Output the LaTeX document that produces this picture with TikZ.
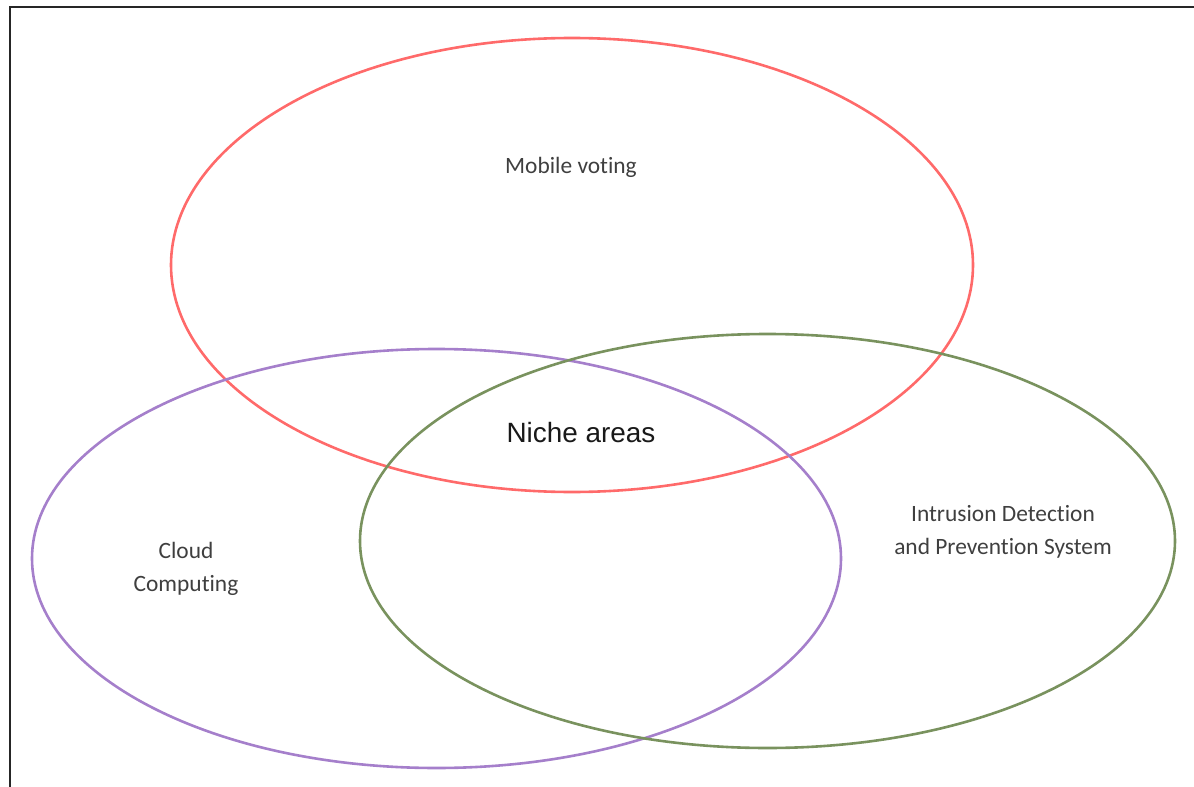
\documentclass[tikz,border=0pt]{standalone}
\usepackage{fontspec}
\setmainfont[Ligatures=CommonOff]{Carlito}
\newfontfamily\arialfont{Liberation Sans}
\definecolor{setred}{HTML}{FF6A6A}
\definecolor{setpurple}{HTML}{A57FCB}
\definecolor{setgreen}{HTML}{79925E}
\definecolor{labelgray}{HTML}{3F3F3F}
\tikzset{
  setline/.style={line width=2.6bp},
  label text/.style={text=labelgray, font=\fontsize{23.5}{32.5}\selectfont, align=center},
  frame/.style={line width=2.4bp, draw=black!85}
}
\begin{document}
\begin{tikzpicture}[x=1bp, y=-1bp]
  \useasboundingbox (0,0) rectangle (1194,787);
  % outer frame (runs off the right and bottom edges)
  \draw[frame] (10,790) -- (10,7) -- (1197,7);
  % the three sets
  \coordinate (mv) at (572,265);
  \coordinate (cc) at (436.5,558.5);
  \coordinate (ids) at (767.5,541);
  \draw[setline, draw=setred] (mv) ellipse [x radius=401, y radius=227];
  \draw[setline, draw=setpurple] (cc) ellipse [x radius=404.5, y radius=209.5];
  \draw[setline, draw=setgreen] (ids) ellipse [x radius=407.5, y radius=207];
  % labels
  \node[label text] (mvlabel) at (571,167) {Mobile voting};
  \node[label text] (cclabel) at (186,569) {Cloud\\Computing};
  \node[label text] (idslabel) at (1003,532) {Intrusion Detection\\and Prevention System};
  \node[text=black!90, font=\arialfont\fontsize{28}{32}\selectfont] (niche) at (581,433) {Niche areas};
\end{tikzpicture}
\end{document}
